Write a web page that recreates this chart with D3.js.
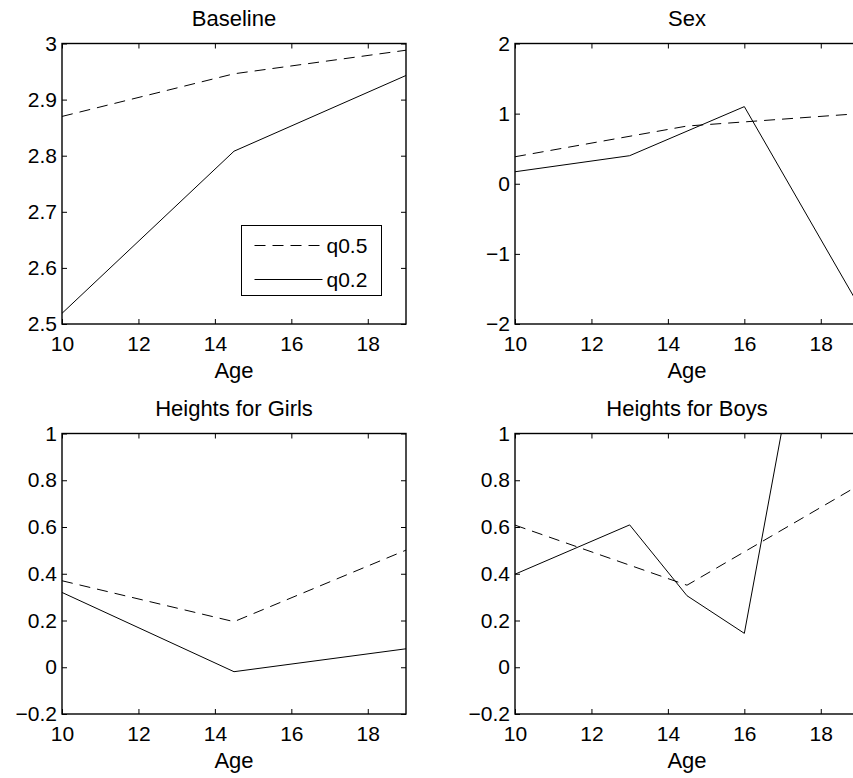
<!DOCTYPE html>
<html>
<head>
<meta charset="utf-8">
<script src="https://cdn.jsdelivr.net/npm/d3@7"></script>
<style>
  body { margin: 0; background: #fff; }
  svg { display: block; font-family: "Liberation Sans", Arial, Helvetica, sans-serif; }
  .tick line { stroke: #000; stroke-width: 1; }
  .tick text { font-size: 21px; fill: #000; }
</style>
</head>
<body>
<svg width="853" height="778"></svg>
<script>
// ages where each curve has a value
const agesMedian = [10, 14.5, 19];
const agesBaseLow = [10, 14.5, 19];
const agesSexLow = [10, 13, 16, 19];
const agesGirlsLow = [10, 14.5, 19];
const agesBoysLow = [10, 13, 14.5, 16, 19];

// q0.5 (dashed) and q0.2 (solid) coefficients
const baselineQ50 = [2.870, 2.946, 2.988];
const baselineQ20 = [2.519, 2.808, 2.943];
const sexQ50 = [0.385, 0.823, 1.0];
const sexQ20 = [0.171, 0.40, 1.10, -1.74];
const girlsQ50 = [0.370, 0.195, 0.501];
const girlsQ20 = [0.320, -0.019, 0.079];
const boysQ50 = [0.608, 0.351, 0.779];
const boysQ20 = [0.398, 0.609, 0.306, 0.145, 2.8];

const xTicks = [10, 12, 14, 16, 18];
const panelTitles = ['Baseline', 'Sex', 'Heights for Girls', 'Heights for Boys'];
const legendLabels = ['q0.5', 'q0.2'];

const zip = (xs, ys) => xs.map((x, i) => ({ x, y: ys[i] }));

const panels = [
  { title: panelTitles[0], yDomain: [2.5, 3], yTicks: d3.range(2.5, 3.001, 0.1),
    q50: zip(agesMedian, baselineQ50), q20: zip(agesBaseLow, baselineQ20), legend: true },
  { title: panelTitles[1], yDomain: [-2, 2], yTicks: [-2, -1, 0, 1, 2],
    q50: zip(agesMedian, sexQ50), q20: zip(agesSexLow, sexQ20) },
  { title: panelTitles[2], yDomain: [-0.2, 1], yTicks: d3.range(-0.2, 1.001, 0.2),
    q50: zip(agesMedian, girlsQ50), q20: zip(agesGirlsLow, girlsQ20) },
  { title: panelTitles[3], yDomain: [-0.2, 1], yTicks: d3.range(-0.2, 1.001, 0.2),
    q50: zip(agesMedian, boysQ50), q20: zip(agesBoysLow, boysQ20) }
];

const svg = d3.select('svg');
const boxW = 344, boxH = 280.5;
const lefts = [62, 515], tops = [43.5, 433.5];
const dash = '11,7';

const fmt = v => {
  let s = Math.abs(v) < 1e-9 ? '0' : d3.format('~g')(+v.toFixed(2));
  return s.replace('-', '\u2212');
};

panels.forEach((p, i) => {
  const left = lefts[i % 2], top = tops[Math.floor(i / 2)];
  const x = d3.scaleLinear().domain([10, 19]).range([0, boxW]);
  const y = d3.scaleLinear().domain(p.yDomain).range([boxH, 0]);

  const g = svg.append('g').attr('transform', `translate(${left},${top})`);

  g.append('clipPath').attr('id', 'clip' + i)
    .append('rect').attr('width', boxW).attr('height', boxH);

  // axes, ticks pointing inward like matlab
  const bottom = g.append('g').attr('transform', `translate(0,${boxH})`)
    .call(d3.axisBottom(x).tickValues(xTicks).tickSize(-5).tickPadding(12).tickFormat(d3.format('d')));
  bottom.selectAll('text').attr('dy', '0.71em');
  g.append('g').call(d3.axisTop(x).tickValues(xTicks).tickSize(-5).tickFormat(''));
  g.append('g')
    .call(d3.axisLeft(y).tickValues(p.yTicks).tickSize(-5).tickPadding(5).tickFormat(fmt));
  g.append('g').attr('transform', `translate(${boxW},0)`)
    .call(d3.axisRight(y).tickValues(p.yTicks).tickSize(-5).tickFormat(''));
  g.selectAll('.domain').remove();

  g.append('rect')
    .attr('width', boxW).attr('height', boxH)
    .attr('fill', 'none').attr('stroke', '#000').attr('stroke-width', 1.4);

  const line = d3.line().x(d => x(d.x)).y(d => y(d.y));
  const plot = g.append('g').attr('clip-path', `url(#clip${i})`);
  plot.append('path').datum(p.q50).attr('d', line)
    .attr('fill', 'none').attr('stroke', '#000').attr('stroke-width', 1)
    .attr('stroke-dasharray', dash);
  plot.append('path').datum(p.q20).attr('d', line)
    .attr('fill', 'none').attr('stroke', '#000').attr('stroke-width', 1);

  g.append('text')
    .attr('x', boxW / 2).attr('y', -17.5)
    .attr('text-anchor', 'middle').attr('font-size', 22)
    .text(p.title);
  g.append('text')
    .attr('x', boxW / 2).attr('y', boxH + 54)
    .attr('text-anchor', 'middle').attr('font-size', 22)
    .text('Age');

  if (p.legend) {
    const lg = g.append('g').attr('transform', `translate(${241.5 - left},${225.5 - top})`);
    lg.append('rect').attr('width', 140).attr('height', 70)
      .attr('fill', '#fff').attr('stroke', '#000').attr('stroke-width', 1);
    [dash, null].forEach((da, k) => {
      const yy = 20 + k * 34;
      lg.append('line').attr('x1', 13).attr('x2', 81).attr('y1', yy).attr('y2', yy)
        .attr('stroke', '#000').attr('stroke-width', 1)
        .attr('stroke-dasharray', da);
      lg.append('text').attr('x', 85).attr('y', yy + 7.5).attr('font-size', 21)
        .text(legendLabels[k]);
    });
  }
});
</script>
</body>
</html>
